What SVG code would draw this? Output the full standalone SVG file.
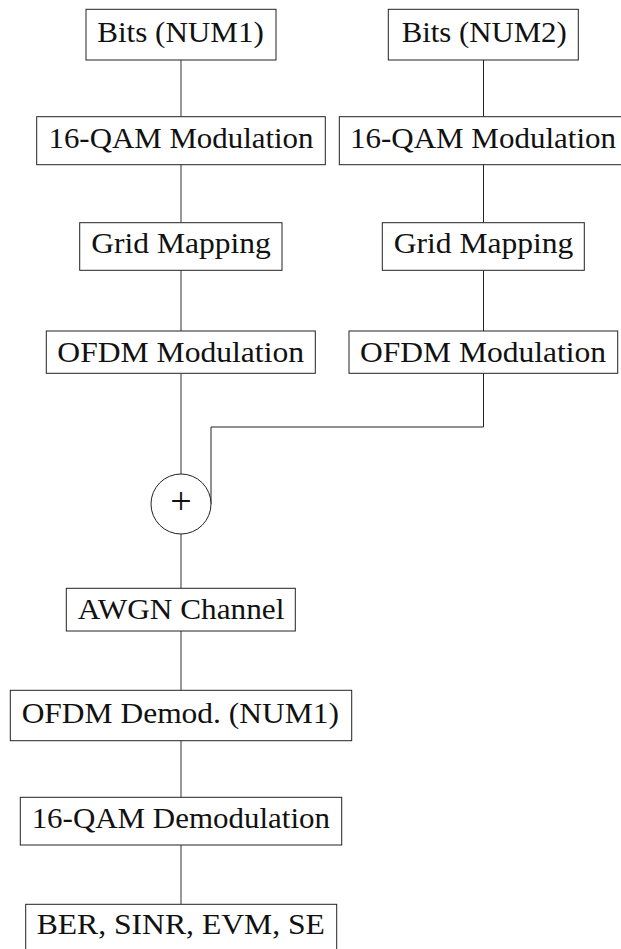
<svg xmlns="http://www.w3.org/2000/svg" width="621" height="949" viewBox="0 0 621 949">
  <style>
    .box { fill: #fff; stroke: #222; stroke-width: 1; }
    .lbl { font-family: "Liberation Serif", "Times New Roman", serif; font-size: 29px; fill: #111; text-anchor: middle; }
    .wire { fill: none; stroke: #222; stroke-width: 1; }
    .wire-l { fill: none; stroke: #555; stroke-width: 1.2; }
  </style>
  <rect width="621" height="949" fill="#fff"/>

  <!-- connectors -->
  <g id="connectors">
    <path class="wire-l" d="M181 60 V116.7 M181 164.7 V222.7 M181 270.3 V331 M181 373.3 V474 M181 534 V588.3 M181 631 V690.3 M181 740.7 V797.3 M181 845 V904.3"/>
    <path class="wire" d="M483.5 60 V116.7 M483.5 164.7 V222.7 M483.5 270.3 V331"/>
    <path class="wire" d="M483.5 373.3 V427 H211 V504"/>
  </g>

  <!-- branch 1 -->
  <g id="bits1">
    <rect class="box" x="86" y="9.3" width="190" height="50.7"/>
    <text class="lbl" x="180.5" y="42.3" textLength="166.7" lengthAdjust="spacingAndGlyphs">Bits (NUM1)</text>
  </g>
  <g id="qam1">
    <rect class="box" x="36.7" y="116.7" width="288.6" height="48"/>
    <text class="lbl" x="181" y="147.6" textLength="265" lengthAdjust="spacingAndGlyphs">16-QAM Modulation</text>
  </g>
  <g id="grid1">
    <rect class="box" x="79.7" y="222.7" width="202.3" height="47.6"/>
    <text class="lbl" x="181" y="253.3" textLength="179.7" lengthAdjust="spacingAndGlyphs">Grid Mapping</text>
  </g>
  <g id="ofdm1">
    <rect class="box" x="46.3" y="331" width="269" height="42.3"/>
    <text class="lbl" x="180.7" y="362" textLength="246.7" lengthAdjust="spacingAndGlyphs">OFDM Modulation</text>
  </g>

  <!-- branch 2 -->
  <g id="bits2">
    <rect class="box" x="388.3" y="9.3" width="190" height="50.7"/>
    <text class="lbl" x="484.2" y="42.3" textLength="165" lengthAdjust="spacingAndGlyphs">Bits (NUM2)</text>
  </g>
  <g id="qam2">
    <rect class="box" x="339.3" y="116.7" width="288.6" height="48"/>
    <text class="lbl" x="483" y="147.6" textLength="266" lengthAdjust="spacingAndGlyphs">16-QAM Modulation</text>
  </g>
  <g id="grid2">
    <rect class="box" x="382.3" y="222.7" width="202" height="47.6"/>
    <text class="lbl" x="483.5" y="253.3" textLength="179.6" lengthAdjust="spacingAndGlyphs">Grid Mapping</text>
  </g>
  <g id="ofdm2">
    <rect class="box" x="349" y="331" width="268.7" height="42.3"/>
    <text class="lbl" x="483" y="362" textLength="246" lengthAdjust="spacingAndGlyphs">OFDM Modulation</text>
  </g>

  <!-- summing junction -->
  <g id="sum">
    <circle class="box" cx="181" cy="504" r="30"/>
    <text class="lbl" x="181" y="513.5" style="font-size:38px">+</text>
  </g>

  <!-- receiver chain -->
  <g id="awgn">
    <rect class="box" x="66.3" y="588.3" width="229" height="42.7"/>
    <text class="lbl" x="181" y="619" textLength="206.7" lengthAdjust="spacingAndGlyphs">AWGN Channel</text>
  </g>
  <g id="ofdm-demod">
    <rect class="box" x="10.3" y="690.3" width="341.4" height="50.4"/>
    <text class="lbl" x="180.3" y="722.7" textLength="317.3" lengthAdjust="spacingAndGlyphs">OFDM Demod. (NUM1)</text>
  </g>
  <g id="qam-demod">
    <rect class="box" x="20.3" y="797.3" width="321.4" height="47.7"/>
    <text class="lbl" x="180.8" y="828.3" textLength="298.3" lengthAdjust="spacingAndGlyphs">16-QAM Demodulation</text>
  </g>
  <g id="metrics">
    <rect class="box" x="25.7" y="904.3" width="311" height="52"/>
    <text class="lbl" x="180.8" y="934.3" textLength="288.3" lengthAdjust="spacingAndGlyphs">BER, SINR, EVM, SE</text>
  </g>
</svg>
